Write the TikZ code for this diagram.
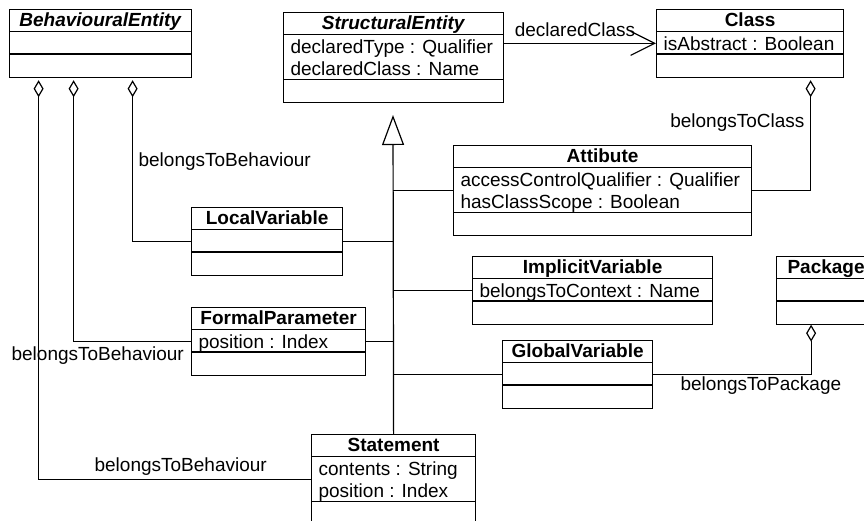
\documentclass[tikz,border=0pt]{standalone}
\usepackage{fontspec}
\setmainfont{Liberation Sans}
\usepackage{tikz}
\usetikzlibrary{arrows.meta}

\begin{document}
\begin{tikzpicture}[%
		x=1pt, y=-1pt,
		line width=1.2pt,
		umlclass/.style={draw, anchor=north west, inner sep=0pt, minimum height=67.5pt},
		umlclass2/.style={umlclass, minimum height=90pt},
		title/.style={anchor=base, inner sep=0pt, font=\fontsize{19}{22.5}\selectfont\bfseries},
		attrib/.style={anchor=base west, inner sep=0pt, font=\fontsize{19}{22.5}\selectfont},
		role/.style={inner sep=0pt, font=\fontsize{19}{22.5}\selectfont},
		agg/.style={{Diamond[open,length=17pt,width=10pt]}-, shorten <=2.5pt}]
		\useasboundingbox (0,0) rectangle (864,520);
		% classes
		\node[umlclass, minimum width=182pt] (beh) at (9,9) {};
		\node[title] (beh-t) at ([yshift=-17.5pt]beh.north) {\textit{BehaviouralEntity}};
		\draw ([yshift=-22.5pt]beh.north west) -- ([yshift=-22.5pt]beh.north east);
		\draw ([yshift=-45pt]beh.north west) -- ([yshift=-45pt]beh.north east);

		\node[umlclass2, minimum width=220pt] (struct) at (283,12) {};
		\node[title] (struct-t) at ([yshift=-17.5pt]struct.north) {\textit{StructuralEntity}};
		\node[attrib] (struct-a1) at ([xshift=7pt,yshift=-41pt]struct.north west) {declaredType : Qualifier};
		\node[attrib] (struct-a2) at ([xshift=7pt,yshift=-63.5pt]struct.north west) {declaredClass : Name};
		\draw ([yshift=-22.5pt]struct.north west) -- ([yshift=-22.5pt]struct.north east);
		\draw ([yshift=-67.5pt]struct.north west) -- ([yshift=-67.5pt]struct.north east);

		\node[umlclass, minimum width=187pt] (cls) at (656,9) {};
		\node[title] (cls-t) at ([yshift=-17.5pt]cls.north) {Class};
		\node[attrib] (cls-a1) at ([xshift=7pt,yshift=-41pt]cls.north west) {isAbstract : Boolean};
		\draw ([yshift=-22.5pt]cls.north west) -- ([yshift=-22.5pt]cls.north east);
		\draw ([yshift=-45pt]cls.north west) -- ([yshift=-45pt]cls.north east);

		\node[umlclass2, minimum width=298pt] (attr) at (453,145) {};
		\node[title] (attr-t) at ([yshift=-17.5pt]attr.north) {Attibute};
		\node[attrib] (attr-a1) at ([xshift=7pt,yshift=-41pt]attr.north west) {accessControlQualifier : Qualifier};
		\node[attrib] (attr-a2) at ([xshift=7pt,yshift=-63.5pt]attr.north west) {hasClassScope : Boolean};
		\draw ([yshift=-22.5pt]attr.north west) -- ([yshift=-22.5pt]attr.north east);
		\draw ([yshift=-67.5pt]attr.north west) -- ([yshift=-67.5pt]attr.north east);

		\node[umlclass, minimum width=151pt] (local) at (191,207) {};
		\node[title] (local-t) at ([yshift=-17.5pt]local.north) {LocalVariable};
		\draw ([yshift=-22.5pt]local.north west) -- ([yshift=-22.5pt]local.north east);
		\draw ([yshift=-45pt]local.north west) -- ([yshift=-45pt]local.north east);

		\node[umlclass, minimum width=240pt] (implicit) at (472,256) {};
		\node[title] (implicit-t) at ([yshift=-17.5pt]implicit.north) {ImplicitVariable};
		\node[attrib] (implicit-a1) at ([xshift=7pt,yshift=-41pt]implicit.north west) {belongsToContext : Name};
		\draw ([yshift=-22.5pt]implicit.north west) -- ([yshift=-22.5pt]implicit.north east);
		\draw ([yshift=-45pt]implicit.north west) -- ([yshift=-45pt]implicit.north east);

		\node[umlclass, minimum width=99pt] (package) at (776,256) {};
		\node[title] (package-t) at ([yshift=-17.5pt]package.north) {Package};
		\draw ([yshift=-22.5pt]package.north west) -- ([yshift=-22.5pt]package.north east);
		\draw ([yshift=-45pt]package.north west) -- ([yshift=-45pt]package.north east);

		\node[umlclass, minimum width=174pt] (formal) at (191,307) {};
		\node[title] (formal-t) at ([yshift=-17.5pt]formal.north) {FormalParameter};
		\node[attrib] (formal-a1) at ([xshift=7pt,yshift=-41pt]formal.north west) {position : Index};
		\draw ([yshift=-22.5pt]formal.north west) -- ([yshift=-22.5pt]formal.north east);
		\draw ([yshift=-45pt]formal.north west) -- ([yshift=-45pt]formal.north east);

		\node[umlclass, minimum width=150pt] (global) at (502,340) {};
		\node[title] (global-t) at ([yshift=-17.5pt]global.north) {GlobalVariable};
		\draw ([yshift=-22.5pt]global.north west) -- ([yshift=-22.5pt]global.north east);
		\draw ([yshift=-45pt]global.north west) -- ([yshift=-45pt]global.north east);

		\node[umlclass2, minimum width=164pt] (stmt) at (311,434) {};
		\node[title] (stmt-t) at ([yshift=-17.5pt]stmt.north) {Statement};
		\node[attrib] (stmt-a1) at ([xshift=7pt,yshift=-41pt]stmt.north west) {contents : String};
		\node[attrib] (stmt-a2) at ([xshift=7pt,yshift=-63.5pt]stmt.north west) {position : Index};
		\draw ([yshift=-22.5pt]stmt.north west) -- ([yshift=-22.5pt]stmt.north east);
		\draw ([yshift=-67.5pt]stmt.north west) -- ([yshift=-67.5pt]stmt.north east);

		% generalisation
		\coordinate (gen) at (393,115);
		\draw[-{Triangle[open,length=30pt,width=22pt]}] (stmt.north) -- (gen);
		\draw (attr.west) -- (attr.west -| gen);
		\draw (implicit.west) -- (implicit.west -| gen);
		\draw (global.west) -- (global.west -| gen);
		\draw (local.east) -- (local.east -| gen);
		\draw (formal.east) -- (formal.east -| gen);

		% associations
		\draw[-{Straight Barb[length=24pt,width=24pt]}] (cls.west -| struct.east) -- (cls.west)
			node[role, pos=0, anchor=base west, xshift=10pt, yshift=7pt] (dc-lbl) {declaredClass};
		\draw[agg] ([xshift=60.5pt]cls.south) |- (attr.east);
		\node[role, anchor=base east] (bc-lbl) at (805,127) {belongsToClass};
		\draw[agg, shorten <=0pt] ([xshift=-15pt]package.south) |- (global.east);
		\node[role, anchor=base west] (bp-lbl) at (680,390.5) {belongsToPackage};
		\draw[agg] ([xshift=32pt]beh.south) |- (local.west);
		\node[role, anchor=base west] (bb-lbl1) at (138,166.5) {belongsToBehaviour};
		\draw[agg] ([xshift=-27pt]beh.south) |- (formal.west);
		\node[role, anchor=base west] (bb-lbl2) at (11,360) {belongsToBehaviour};
		\draw[agg] ([xshift=-62pt]beh.south) |- (stmt.west);
		\node[role, anchor=base west] (bb-lbl3) at (94,471) {belongsToBehaviour};
\end{tikzpicture}
\end{document}
